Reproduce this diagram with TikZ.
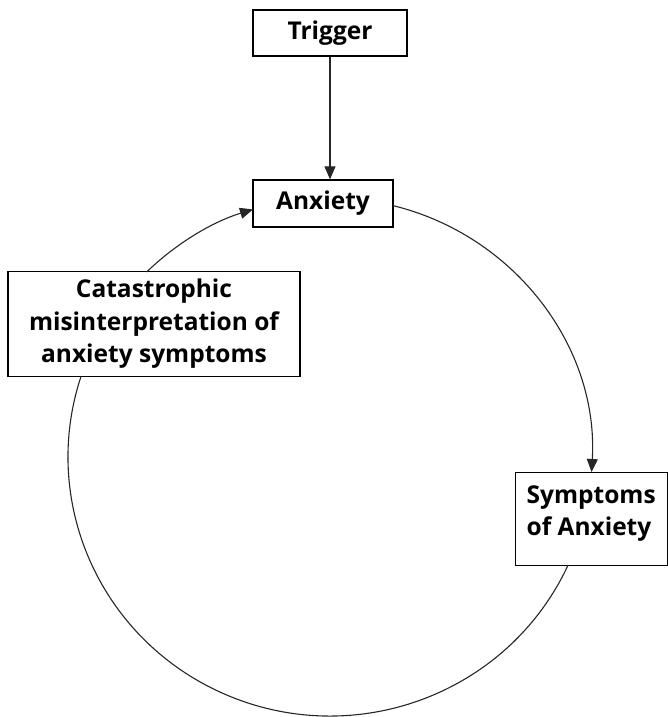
\documentclass[tikz,border=0pt]{standalone}
\usepackage{fontspec}
\setmainfont{Open Sans}
\usetikzlibrary{arrows.meta}
\begin{document}
\begin{tikzpicture}[x=1pt,y=1pt,
  box/.style={draw=black, line width=1.3pt, fill=white, font=\bfseries\fontsize{24.5}{32.5}\selectfont, text=black, inner sep=0pt, align=center},
  conn/.style={line width=1.1pt, draw=black!85},
  tip/.style={-{Triangle[length=13pt,width=11pt]}}]
\useasboundingbox (0,0) rectangle (667,-717);
\coordinate (c) at (330,-457);
\node[box, minimum width=154pt, minimum height=46pt] (trigger) at (330,-33) {Trigger};
\node[box, minimum width=140pt, minimum height=47pt] (anxiety) at (323,-203.5) {Anxiety};
\node[box, minimum width=292pt, minimum height=105pt] (cat) at (154,-324) {Catastrophic\\misinterpretation of\\anxiety symptoms};
\node[box, minimum width=152pt, minimum height=93pt, align=left, anchor=north west] (symp) at (514.5,-472) {\rule{0pt}{30pt}Symptoms\\of Anxiety\rule[-29pt]{0pt}{29pt}};
\draw[conn, tip] (trigger.south) -- (trigger.south |- anxiety.north);
\draw[conn, tip] ([shift={(76.09:262pt and 259pt)}]c) arc[start angle=76.09, end angle=-3.32, x radius=262pt, y radius=259pt];
\draw[conn] ([shift={(-24.64:262pt and 259pt)}]c) arc[start angle=-24.64, end angle=-198.22, x radius=262pt, y radius=259pt];
\draw[conn, tip] ([shift={(134.42:262pt and 259pt)}]c) arc[start angle=134.42, end angle=107.09, x radius=262pt, y radius=259pt];
\end{tikzpicture}
\end{document}
